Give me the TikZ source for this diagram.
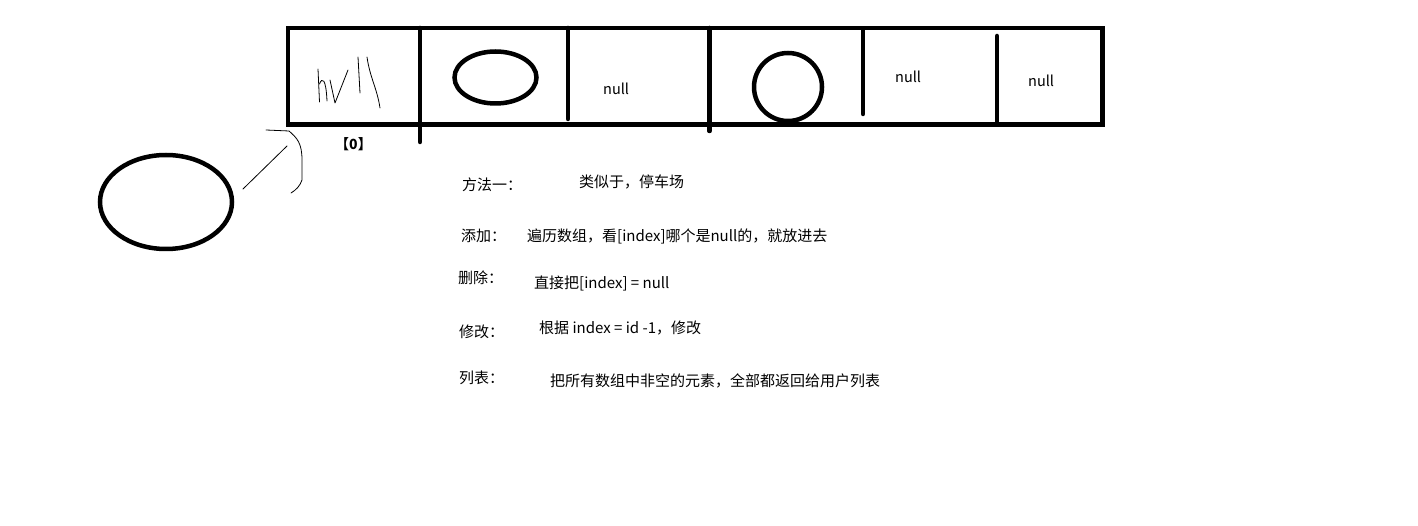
\documentclass[tikz,border=0pt]{standalone}
\usepackage{fontspec}
\setmainfont{Noto Sans CJK SC}
\begin{document}
\begin{tikzpicture}[x=1pt,y=-1pt,
  thick line/.style={line width=4.5pt,line cap=round},
  frame/.style={line width=4.5pt,line join=miter},
  pen/.style={line width=0.8pt,line cap=round,line join=round},
  lbl/.style={anchor=west,inner sep=0pt,font=\fontsize{15}{18}\selectfont},
  nul/.style={anchor=west,inner sep=0pt,font=\fontsize{14.5}{17}\selectfont}]
\useasboundingbox (0,0) rectangle (1418,526);
% array
\draw[frame] (288,28) rectangle (1102.5,124.5);
\coordinate (d1t) at (420,28); \coordinate (d1b) at (420,142);
\coordinate (d2t) at (568,28); \coordinate (d2b) at (568,119);
\coordinate (d3t) at (709.5,28); \coordinate (d3b) at (709.5,131);
\coordinate (d4t) at (863,30); \coordinate (d4b) at (863,114);
\coordinate (d5t) at (997,36); \coordinate (d5b) at (997,124);
\draw[thick line] (d1t) -- (d1b);
\draw[thick line] (d2t) -- (d2b);
\draw[thick line] (d3t) -- (d3b);
\draw[thick line] (d4t) -- (d4b);
\draw[thick line] (d5t) -- (d5b);
% objects
\draw[line width=4.5pt] (495.5,77.5) ellipse [x radius=41, y radius=26];
\draw[line width=4.5pt] (788,87) ellipse [x radius=34, y radius=34];
\draw[line width=4.5pt] (166,202) ellipse [x radius=66, y radius=47];
% handwritten null
\draw[pen] (318,69) -- (319.5,102);
\draw[pen] (319.5,84) .. controls (322,77) and (326,78) .. (327,101);
\draw[pen] (330,80) -- (335,103) -- (348,70);
\draw[pen] (358,57) -- (360,93);
\draw[pen] (367,57) .. controls (370,78) and (377,88) .. (380,108);
% bracket and pointer
\coordinate (bt) at (266,130);
\coordinate (bb) at (291,193);
\draw[pen] (bt) -- (289,131) .. controls (297,138) and (302,143) .. (302,160) -- (302,180) .. controls (300,186) and (296,190) .. (bb);
\coordinate (pa) at (243,189);
\coordinate (pb) at (287,146);
\draw[pen] (pa) -- (pb);
% labels
\node[nul] (n1) at (603,89) {null};
\node[nul] (n2) at (895,77) {null};
\node[nul] (n3) at (1028,80.5) {null};
\node[inner sep=0pt,font=\fontsize{14}{16}\selectfont\bfseries] (idx) at (353.5,144) {【0】};
\node[lbl] (t1) at (462,185) {方法一：};
\node[lbl] (t1b) at (579,182) {类似于，停车场};
\node[lbl] (t2) at (461,236) {添加：};
\node[lbl] (t2b) at (527,236) {遍历数组，看[index]哪个是null的，就放进去};
\node[lbl] (t3) at (458,278) {删除：};
\node[lbl] (t3b) at (534,283) {直接把[index] = null};
\node[lbl] (t4) at (459,332) {修改：};
\node[lbl] (t4b) at (539,328) {根据 index = id -1，修改};
\node[lbl] (t5) at (459,378) {列表：};
\node[lbl] (t5b) at (550,381) {把所有数组中非空的元素，全部都返回给用户列表};
\end{tikzpicture}
\end{document}
